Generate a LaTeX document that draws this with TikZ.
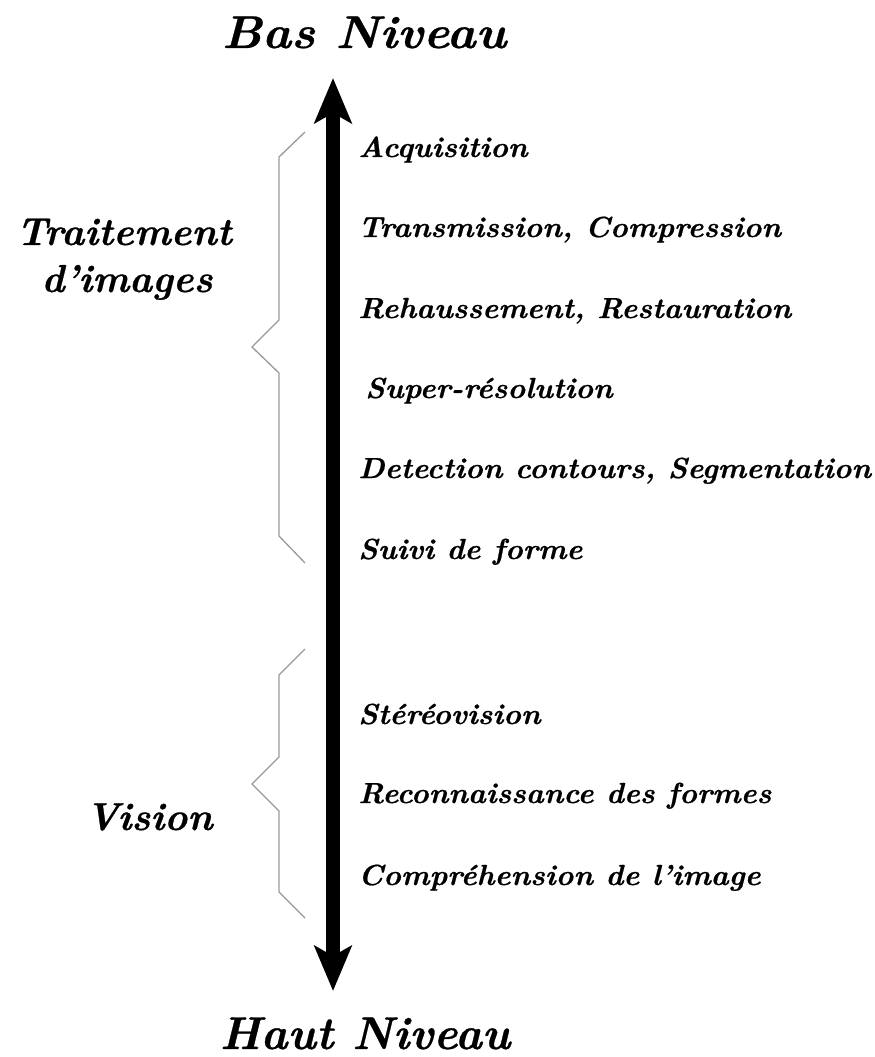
\documentclass[tikz,border=0pt]{standalone}
\usepackage{fontspec}
\setmainfont{Latin Modern Roman}
\usetikzlibrary{arrows.meta}
\newcommand{\heavy}[1]{\bfseries\itshape\addfontfeature{FakeStretch=#1,FakeBold=0.6}}
\tikzset{
  item/.style={anchor=base west, inner sep=0pt, font=\fontsize{29}{30}\selectfont\heavy{1.04}},
  title/.style={anchor=base, inner sep=0pt, font=\fontsize{46}{50}\selectfont\heavy{#1}},
  title/.default=1.07,
  side/.style={anchor=base, inner sep=0pt, align=center, font=\fontsize{39}{48}\selectfont\heavy{1.0}},
  brace/.style={draw=black!40, line width=1.3pt, line join=miter},
  axis/.style={line width=14pt, {Stealth[length=45pt,width=37pt,inset=10pt]}-{Stealth[length=45pt,width=37pt,inset=10pt]}}
}
\begin{document}
\begin{tikzpicture}[x=1pt,y=-1pt]
\useasboundingbox (0,0) rectangle (875,1057);
\node[title] (bas) at (364,48) {Bas Niveau};
\node[title=0.99] (haut) at (365,1049) {Haut Niveau};
\coordinate (top) at (333,78);
\coordinate (bot) at (333,991);
\draw[axis] (bot) -- (top);

\node[item] (i1) at (358,157) {Acquisition};
\node[item] (i2) at (358,237) {Transmission, Compression};
\node[item] (i3) at (358,318) {Rehaussement, Restauration};
\node[item] (i4) at (365,398) {Super-résolution};
\node[item] (i5) at (358,478) {Detection contours, Segmentation};
\node[item] (i6) at (358,559) {Suivi de forme};
\node[item] (i7) at (358,724) {Stéréovision};
\node[item] (i8) at (358,803) {Reconnaissance des formes};
\node[item] (i9) at (358,885) {Compréhension de l’image};

\node[side] (ti) at (124,245) {Traitement};
\node[side] (di) at (127,292) {d’images};
\node[side] (vi) at (149,830) {Vision};

\draw[brace] (305,132) -- (279,157) -- (279,320) -- (252,347) -- (279,373) -- (279,536) -- (305,563);
\draw[brace] (305,649) -- (279,675) -- (279,757) -- (252,784) -- (279,811) -- (279,892) -- (305,918);
\end{tikzpicture}
\end{document}
